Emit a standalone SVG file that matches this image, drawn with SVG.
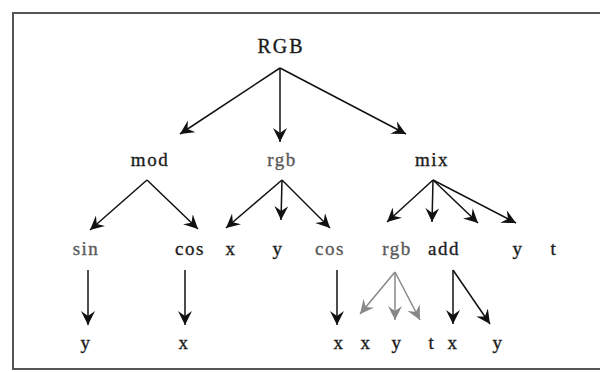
<svg xmlns="http://www.w3.org/2000/svg" width="600" height="372" viewBox="0 0 600 372">
<style>
.t{font-family:"Liberation Serif","Times New Roman",serif;font-size:19px;fill:#1c1c1c;stroke:#1c1c1c;stroke-width:0.35;text-anchor:middle;letter-spacing:1.5px}
.g{fill:#5a5a5a;stroke:#5a5a5a}
.e{stroke:#111;stroke-width:1.5;fill:none;marker-end:url(#ah)}
.eg{stroke:#888;stroke-width:1.5;fill:none;marker-end:url(#ahg)}
</style>
<defs>
<marker id="ah" markerUnits="userSpaceOnUse" markerWidth="16" markerHeight="16" refX="14" refY="7" orient="auto"><path d="M0,0 L14,7 L0,14 L5,7 z" fill="#111"/></marker>
<marker id="ahg" markerUnits="userSpaceOnUse" markerWidth="16" markerHeight="16" refX="14" refY="7" orient="auto"><path d="M0,0 L14,7 L0,14 L5,7 z" fill="#888"/></marker>
</defs>
<rect width="600" height="372" fill="#fff"/>
<path d="M610,13 H13 V369 H610" fill="none" stroke="#555" stroke-width="2"/>
<g id="n-RGB"><text class="t" x="281" y="53" style="font-size:20px;letter-spacing:2px">RGB</text></g>
<g id="n-mod"><text class="t" x="150" y="166">mod</text></g>
<g id="n-rgb1"><text class="t g" x="282" y="166">rgb</text></g>
<g id="n-mix"><text class="t" x="432" y="166">mix</text></g>
<g id="n-sin"><text class="t g" x="86" y="255">sin</text></g>
<g id="n-cos1"><text class="t" x="190" y="255">cos</text></g>
<g id="n-x1"><text class="t" x="231" y="255">x</text></g>
<g id="n-y1"><text class="t" x="278" y="255">y</text></g>
<g id="n-cos2"><text class="t g" x="330" y="255">cos</text></g>
<g id="n-rgb2"><text class="t g" x="397" y="255">rgb</text></g>
<g id="n-add"><text class="t" x="444" y="255">add</text></g>
<g id="n-y2"><text class="t" x="518" y="255">y</text></g>
<g id="n-t1"><text class="t" x="554" y="255">t</text></g>
<g id="n-y3"><text class="t" x="86" y="349">y</text></g>
<g id="n-x3"><text class="t" x="184" y="349">x</text></g>
<g id="n-x4"><text class="t" x="339" y="349">x</text></g>
<g id="n-x5"><text class="t" x="366" y="349">x</text></g>
<g id="n-y5"><text class="t" x="397" y="349">y</text></g>
<g id="n-t5"><text class="t" x="432" y="349">t</text></g>
<g id="n-x6"><text class="t" x="453" y="349">x</text></g>
<g id="n-y6"><text class="t" x="498" y="349">y</text></g>
<g id="connectors">
<path class="e" d="M280,68 L180,134"/>
<path class="e" d="M280,68 L280,142"/>
<path class="e" d="M280,68 L406,134"/>
<path class="e" d="M147,180 L90,230"/>
<path class="e" d="M147,180 L198,229"/>
<path class="e" d="M282,180 L226,228"/>
<path class="e" d="M282,180 L281,220"/>
<path class="e" d="M282,180 L330,228"/>
<path class="e" d="M433,180 L387,222"/>
<path class="e" d="M433,180 L432,222"/>
<path class="e" d="M433,180 L478,223"/>
<path class="e" d="M433,180 L516,223"/>
<path class="e" d="M88,270 L88,325"/>
<path class="e" d="M185,270 L185,325"/>
<path class="e" d="M337,270 L337,325"/>
<path class="eg" d="M395,272 L360,314"/>
<path class="eg" d="M395,272 L395,320"/>
<path class="eg" d="M395,272 L420,320"/>
<path class="e" d="M453,270 L453,324"/>
<path class="e" d="M453,270 L490,324"/>
</g>
</svg>
